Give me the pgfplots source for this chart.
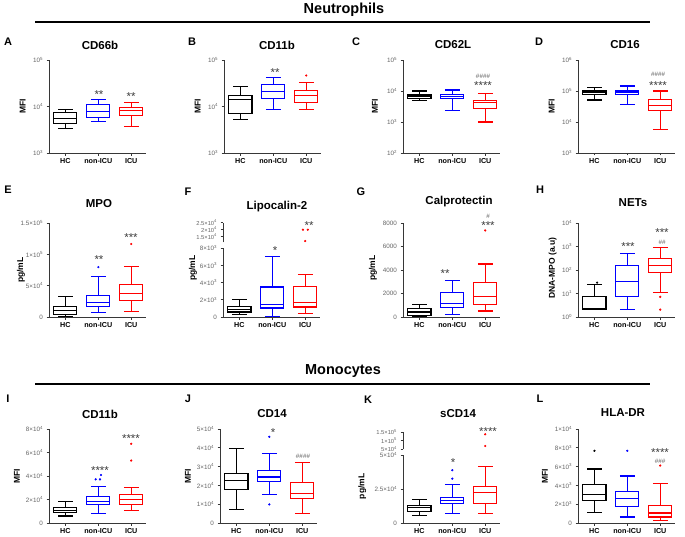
\documentclass[border=0pt]{standalone}
\usepackage{fontspec}
\setmainfont{Liberation Sans}
\usepackage{pgfplots}
\pgfplotsset{compat=1.18}
\usepgfplotslibrary{statistics}

\definecolor{gpblue}{RGB}{0,0,255}
\definecolor{gpred}{RGB}{255,0,0}
\definecolor{axgray}{RGB}{55,55,55}
\definecolor{lblgray}{RGB}{100,100,100}
\definecolor{stargray}{RGB}{60,60,60}

\newcommand{\ex}[2]{#1×10\textsuperscript{#2}}
\newcommand{\pw}[1]{10\textsuperscript{#1}}

\pgfplotsset{
 gp/.style={scale only axis, width=97pt, height=93pt, xmin=-0.5, xmax=2.45,
  axis lines*=left, axis line style={axgray, line width=0.95pt,-},
  tick align=outside, major tick length=2.5pt, tick style={axgray, line width=0.8pt},
  xtick={0,1,2}, xticklabels={HC,non-ICU,ICU},
  xticklabel style={font=\bfseries\fontsize{7.2}{8}\selectfont, text=black, yshift=0.8pt},
  yticklabel style={font=\fontsize{6.3}{7}\selectfont, text=lblgray},
  ylabel style={font=\bfseries\fontsize{8.5}{9}\selectfont},
  scaled y ticks=false,
  clip=false, boxplot/draw direction=y, boxplot/box extend=0.7,
  boxplot/whisker extend=0.45, yminorticks=false, anchor=south west},
 yl/.style 2 args={ylabel style={at={(axis description cs:#1,#2)}, anchor=center}},
 bp/.style={draw=#1, line width=1.1pt, solid, mark=none, fill=none},
 out/.style={only marks, mark=*, mark size=0.9pt, color=#1},
}
\newcommand{\bx}[7]{\addplot[bp=#1, boxplot prepared={draw position=#2, lower whisker=#3, lower quartile=#4, median=#5, upper quartile=#6, upper whisker=#7}] coordinates {};}

\begin{document}
\begin{tikzpicture}
\path[use as bounding box] (0pt,0pt) rectangle (685pt,-536pt);

% headers
\node[font=\bfseries\fontsize{14.5}{15}\selectfont] at (344pt,-10pt) {Neutrophils};
\draw[line width=1.1pt] (35pt,-22pt) -- (650pt,-22pt);
\node[font=\bfseries\fontsize{14.5}{15}\selectfont] at (343pt,-371pt) {Monocytes};
\draw[line width=1.1pt] (35pt,-384pt) -- (650pt,-384pt);

% panel letters
\foreach \L/\x/\y in {A/8/42,B/192/42,C/356/42,D/539/42,E/8/190,F/188/192,G/361/192,H/540/190,I/8/399,J/188/399,K/368/400,L/540/399}
  \node[font=\bfseries\fontsize{11}{12}\selectfont] at (\x pt,-\y pt) {\L};
% titles
\foreach \T/\x/\y in {CD66b/100/45,CD11b/277/45,CD62L/453/45,CD16/625/45,MPO/99/204,Lipocalin-2/277/207,Calprotectin/459/202,NETs/633/203,CD11b/100/414,CD14/272/414,sCD14/458/414,HLA-DR/623/413}
  \node[font=\bfseries\fontsize{11.5}{12}\selectfont] at (\x pt,-\y pt) {\T};

% ---------- A
\begin{axis}[gp, at={(49pt,-153pt)}, ymode=log, ymin=1e3, ymax=1e5, ytick={1e3,1e4,1e5}, yticklabels={\pw{3},\pw{4},\pw{5}}, ylabel={MFI}, yl={-0.27}{0.5}]
\bx{black}{0}{3380}{4250}{5620}{7430}{8500}
\bx{gpblue}{1}{4770}{5910}{7810}{10860}{13900}
\bx{gpred}{2}{3730}{6310}{8070}{9520}{12200}
\end{axis}
% ---------- B
\begin{axis}[gp, at={(224pt,-153pt)}, ymode=log, ymin=1e3, ymax=1e5, ytick={1e3,1e4,1e5}, yticklabels={\pw{3},\pw{4},\pw{5}}, ylabel={MFI}, yl={-0.27}{0.5}]
\bx{black}{0}{5200}{7210}{14300}{17400}{27500}
\bx{gpblue}{1}{8770}{14800}{20800}{29900}{41400}
\bx{gpred}{2}{8770}{12200}{16900}{22300}{33500}
\addplot[out=gpred] coordinates {(2,46400)};
\end{axis}
% ---------- C
\begin{axis}[gp, at={(403pt,-153pt)}, ymode=log, ymin=1e2, ymax=1e5, ytick={1e2,1e3,1e4,1e5}, yticklabels={\pw{2},\pw{3},\pw{4},\pw{5}}, ylabel={MFI}, yl={-0.29}{0.5}]
\bx{black}{0}{4890}{5670}{6580}{7430}{10000}
\bx{gpblue}{1}{2340}{5810}{6580}{7810}{10800}
\bx{gpred}{2}{1000}{2770}{4210}{4890}{8410}
\end{axis}
% ---------- D
\begin{axis}[gp, at={(578pt,-153pt)}, ymode=log, ymin=1e3, ymax=1e6, ytick={1e3,1e4,1e5,1e6}, yticklabels={\pw{3},\pw{4},\pw{5},\pw{6}}, ylabel={MFI}, yl={-0.27}{0.5}]
\bx{black}{0}{51300}{76200}{93000}{105000}{128000}
\bx{gpblue}{1}{37300}{76200}{88400}{100000}{145000}
\bx{gpred}{2}{5560}{23900}{34600}{54000}{100000}
\end{axis}

% ---------- E
\begin{axis}[gp, at={(49pt,-317pt)}, height=94pt, ymin=0, ymax=150000, ytick={0,50000,100000,150000}, yticklabels={0,\ex{5}{4},\ex{1}{5},\ex{1.5}{5}}, ylabel={pg/mL}, yl={-0.29}{0.5}]
\bx{black}{0}{1000}{3790}{9750}{17300}{32500}
\bx{gpblue}{1}{6500}{16300}{22800}{34700}{65000}
\bx{gpred}{2}{8100}{26000}{36800}{52500}{80200}
\addplot[out=gpblue] coordinates {(1,79600)};
\addplot[out=gpred] coordinates {(2,116500)};
\end{axis}
% ---------- F (broken axis)
\begin{axis}[gp, at={(223pt,-317pt)}, height=69pt, ymin=0, ymax=8000, ytick={0,2000,4000,6000,8000}, yticklabels={0,\ex{2}{3},\ex{4}{3},\ex{6}{3},\ex{8}{3}}, ylabel={pg/mL}, yl={-0.31}{0.71}]
\bx{black}{0}{270}{580}{890}{1240}{2050}
\bx{gpblue}{1}{80}{1040}{1430}{3480}{7030}
\bx{gpred}{2}{390}{1160}{1700}{3560}{4910}
\end{axis}
\begin{axis}[gp, at={(223pt,-242.3pt)}, height=19.6pt, ymin=11000, ymax=25000, axis x line=none, axis y line*=left, ytick={15000,20000,25000}, yticklabels={\ex{1.5}{4},\ex{2}{4},\ex{2.5}{4}}, yticklabel style={font=\fontsize{5.8}{6}\selectfont}]
\addplot[out=gpred] coordinates {(1.93,20000) (2.08,20000) (2,11900)};
\end{axis}
% ---------- G
\begin{axis}[gp, at={(403pt,-317pt)}, height=94pt, ymin=0, ymax=8000, ytick={0,2000,4000,6000,8000}, yticklabels={0,2000,4000,6000,8000}, ylabel={pg/mL}, yl={-0.31}{0.52}]
\bx{black}{0}{60}{143}{430}{714}{1086}
\bx{gpblue}{1}{229}{771}{1143}{2057}{3086}
\bx{gpred}{2}{514}{1086}{1714}{2971}{4514}
\addplot[out=gpred] coordinates {(2,7371)};
\end{axis}
% ---------- H
\begin{axis}[gp, at={(578pt,-317pt)}, height=94pt, ymode=log, ymin=1, ymax=1e4, ytick={1,10,100,1000,10000}, yticklabels={\pw{0},\pw{1},\pw{2},\pw{3},\pw{4}}, ylabel={DNA-MPO (a.u)}, yl={-0.26}{0.52}]
\bx{black}{0}{2.0}{2.1}{2.2}{7.2}{25}
\bx{gpblue}{1}{2.06}{7.2}{31.6}{153}{485}
\bx{gpred}{2}{10.7}{79.4}{158}{296}{906}
\addplot[out=black] coordinates {(0.08,29)};
\addplot[out=gpred] coordinates {(2,7.2) (2,2.06)};
\end{axis}

% ---------- I
\begin{axis}[gp, at={(49pt,-523pt)}, height=94pt, ymin=0, ymax=80000, ytick={0,20000,40000,60000,80000}, yticklabels={0,\ex{2}{4},\ex{4}{4},\ex{6}{4},\ex{8}{4}}, ylabel={MFI}, yl={-0.33}{0.5}]
\bx{black}{0}{6000}{8570}{10290}{12860}{18600}
\bx{gpblue}{1}{8000}{16000}{18570}{22860}{31430}
\bx{gpred}{2}{10860}{16000}{20000}{24290}{30000}
\addplot[out=gpblue] coordinates {(0.92,37140) (1.05,37140) (1.08,40860)};
\addplot[out=gpred] coordinates {(2,53140) (2,67430)};
\end{axis}
% ---------- J
\begin{axis}[gp, at={(220pt,-523pt)}, height=94pt, ymin=0, ymax=50000, ytick={0,10000,20000,30000,40000,50000}, yticklabels={0,\ex{1}{4},\ex{2}{4},\ex{3}{4},\ex{4}{4},\ex{5}{4}}, ylabel={MFI}, yl={-0.33}{0.5}]
\bx{black}{0}{7370}{17990}{22660}{26260}{39570}
\bx{gpblue}{1}{14930}{22120}{24460}{28060}{37050}
\bx{gpred}{2}{5040}{13130}{15470}{21580}{32370}
\addplot[out=gpblue] coordinates {(1,45860) (1,9890)};
\end{axis}
% ---------- K (broken axis)
\begin{axis}[gp, at={(403pt,-523pt)}, height=68pt, ymin=0, ymax=50000, ytick={0,25000,50000}, yticklabels={0,\ex{2.5}{4},\ex{5}{4}}, ylabel={pg/mL}, yl={-0.42}{0.54}]
\bx{black}{0}{5480}{8330}{11190}{13100}{17140}
\bx{gpblue}{1}{7140}{14050}{16670}{18810}{28100}
\bx{gpred}{2}{7140}{14050}{22140}{26900}{41670}
\addplot[out=gpblue] coordinates {(1,32620) (1,38810)};
\end{axis}
\begin{axis}[gp, at={(403pt,-449pt)}, height=16.7pt, ymin=50000, ymax=150000, axis x line=none, axis y line*=left, ytick={50000,100000,150000}, yticklabels={\ex{5}{4},\ex{1}{5},\ex{1.5}{5}}, yticklabel style={font=\fontsize{5.8}{6}\selectfont}]
\addplot[out=gpred] coordinates {(2,68000) (2,138000)};
\end{axis}
% ---------- L
\begin{axis}[gp, at={(578pt,-523pt)}, height=94pt, ymin=0, ymax=10000, ytick={0,2000,4000,6000,8000,10000}, yticklabels={0,\ex{2}{3},\ex{4}{3},\ex{6}{3},\ex{8}{3},\ex{1}{4}}, ylabel={MFI}, yl={-0.34}{0.5}]
\bx{black}{0}{1110}{2430}{3040}{4140}{5750}
\bx{gpblue}{1}{640}{1710}{2610}{3390}{5000}
\bx{gpred}{2}{290}{640}{1070}{1890}{4210}
\addplot[out=black] coordinates {(0,7680)};
\addplot[out=gpblue] coordinates {(1,7680)};
\addplot[out=gpred] coordinates {(2,6110)};
\end{axis}

% significance annotations
\begin{scope}[every node/.style={font=\fontsize{11.5}{12}\selectfont, text=stargray, inner sep=0pt}]
\node at (99pt,-94.2pt) {**};
\node at (131pt,-96.5pt) {**};
\node at (275pt,-72.5pt) {**};
\node at (483pt,-85.8pt) {****};
\node at (658pt,-85.8pt) {****};
\node at (99pt,-259.5pt) {**};
\node at (131pt,-237.5pt) {***};
\node at (275pt,-250.8pt) {*};
\node at (309pt,-225.2pt) {**};
\node at (445pt,-273.2pt) {**};
\node at (488pt,-225.2pt) {***};
\node at (628pt,-246.8pt) {***};
\node at (662pt,-233pt) {***};
\node at (100pt,-470.2pt) {****};
\node at (131pt,-438.5pt) {****};
\node at (273pt,-432.5pt) {*};
\node at (453pt,-462.5pt) {*};
\node at (488pt,-431.8pt) {****};
\node at (660pt,-453pt) {****};
\end{scope}
\begin{scope}[every node/.style={font=\fontsize{6.3}{6.5}\selectfont, text=stargray!80, inner sep=0pt}]
\node at (483pt,-76.7pt) {\#\#\#\#};
\node at (658pt,-74.3pt) {\#\#\#\#};
\node at (488pt,-216pt) {\#};
\node at (662pt,-242pt) {\#\#};
\node at (303pt,-456pt) {\#\#\#\#};
\node at (660pt,-461pt) {\#\#\#};
\end{scope}
\end{tikzpicture}
\end{document}
